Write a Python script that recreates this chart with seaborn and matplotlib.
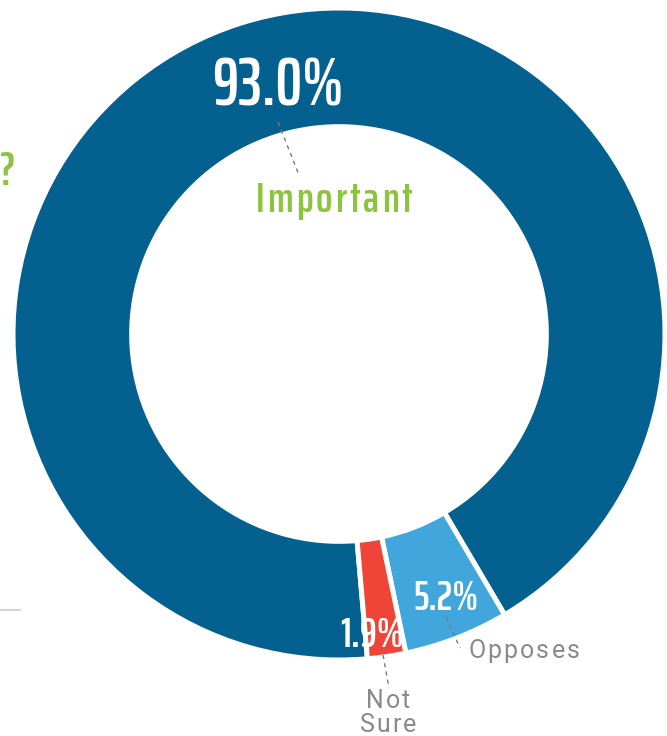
import matplotlib
matplotlib.use("Agg")
import matplotlib.pyplot as plt
import seaborn as sns

# ---- data ----
categories = ["Important", "Opposes", "Not Sure"]
values = [93.0, 5.2, 1.9]
pct_labels = ["93.0%", "5.2%", "1.9%"]
colors = ["#03608F", "#41A6DC", "#EF4538"]

sns.set_theme(style="white")

NUM = dict(family=["Saira ExtraCondensed", "DejaVu Sans"], weight=600)
REG = dict(family=["Roboto", "DejaVu Sans"], weight="normal")

W, H = 667, 736
fig = plt.figure(figsize=(W / 100, H / 100), dpi=100)
fig.patch.set_facecolor("white")
ax = fig.add_axes([0, 0, 1, 1])

cx, cy = 339, H - 334
R = 326
ax.pie(values, colors=colors, startangle=275, counterclock=False,
       center=(cx, cy), radius=R, normalize=True,
       wedgeprops=dict(width=0.364 * R, edgecolor="white", linewidth=3.6))
ax.set_xlim(0, W)
ax.set_ylim(0, H)
ax.set_aspect("equal")
ax.axis("off")

renderer = fig.canvas.get_renderer()


def P(px, py):
    return px, H - py


def spaced(s, px, py, spacing, ha="center", **kw):
    widths = []
    for ch in s:
        t = ax.text(0, 0, ch, **kw)
        widths.append(t.get_window_extent(renderer).width)
        t.remove()
    total = sum(widths) + spacing * (len(s) - 1)
    x = px - total / 2 if ha == "center" else px
    x, y = P(x, py)
    for ch, w in zip(s, widths):
        ax.text(x, y, ch, ha="left", va="baseline", **kw)
        x += w + spacing


def leader(p0, p1):
    (x0, y0), (x1, y1) = P(*p0), P(*p1)
    ax.plot([x0, x1], [y0, y1], color="#7a7a7a", lw=1.0, ls=(0, (3, 3)))


# percentage labels (white)
ax.text(*P(278, 105), pct_labels[0], ha="center", va="baseline", fontsize=48, color="white", **NUM)
ax.text(*P(446, 610), pct_labels[1], ha="center", va="baseline", fontsize=30, color="white", **NUM)
ax.text(*P(372, 647), pct_labels[2], ha="center", va="baseline", fontsize=31, color="white", **NUM)

# category labels
spaced(categories[0], 334, 212, 3, fontsize=31, color="#8CC43F", **NUM)
spaced(categories[1], 468, 658, 2.2, ha="left", fontsize=18, color="#8a8a8a", **REG)
nl = categories[2].split(" ")
spaced(nl[0], 388, 708, 2.2, fontsize=18, color="#8a8a8a", **REG)
spaced(nl[1], 388, 732, 2.2, fontsize=18, color="#8a8a8a", **REG)

# leaders
leader((278, 122), (299, 175))
leader((446, 617), (460, 648))
leader((383, 655), (389, 688))

# remnants of the surrounding infographic
ax.text(*P(0, 185), "?", ha="left", va="baseline", fontsize=34, color="#8CC43F", **NUM)
(lx0, ly0), (lx1, ly1) = P(0, 610), P(20, 610)
ax.plot([lx0, lx1], [ly0, ly1], color="#d4d4d4", lw=1.5)

fig.savefig("out.png", dpi=100, facecolor="white")
